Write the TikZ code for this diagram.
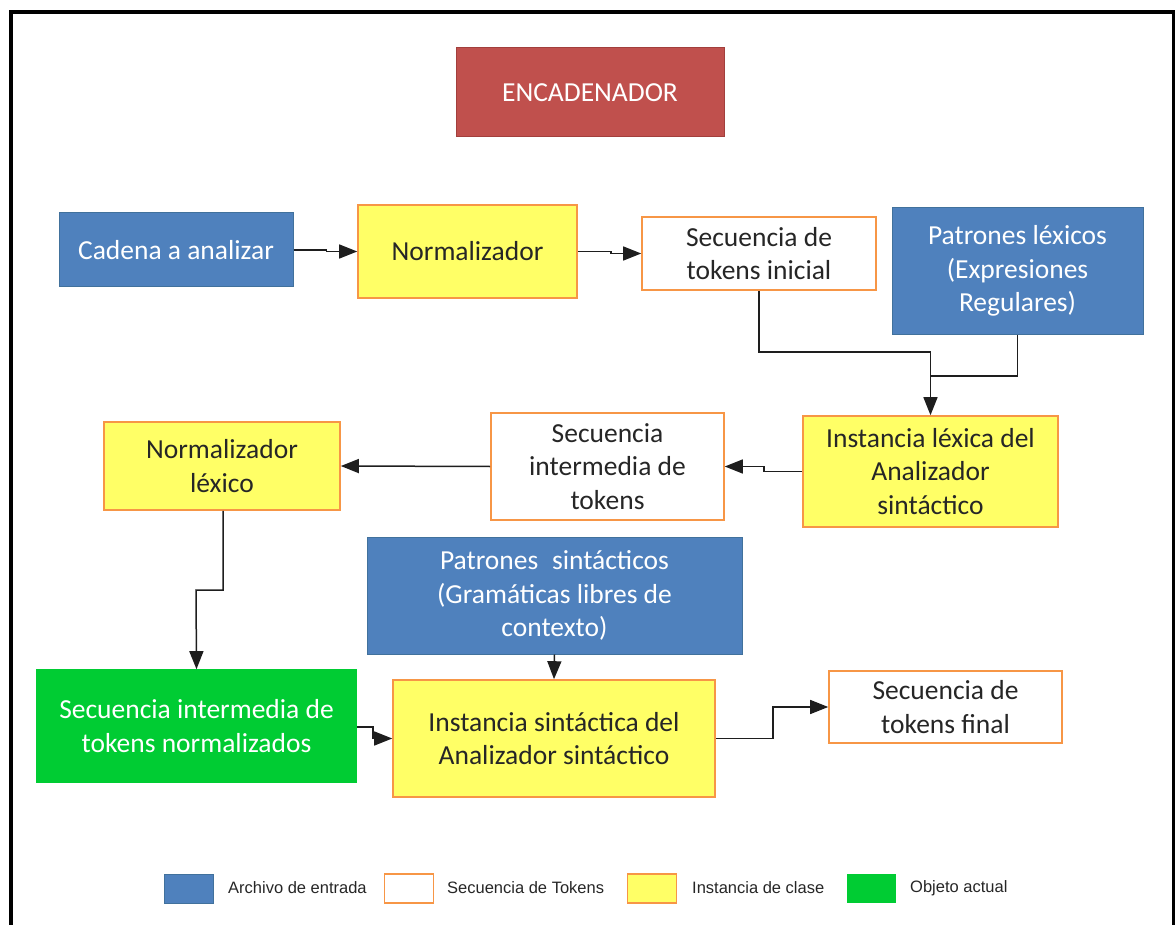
\documentclass[tikz,border=0pt]{standalone}
\usepackage{fontspec}
\setmainfont{Carlito}
\newfontfamily\legendfont{Liberation Sans}
\usetikzlibrary{arrows.meta}

\definecolor{inputblue}{HTML}{4F81BD}
\definecolor{inputedge}{HTML}{41719C}
\definecolor{chainred}{HTML}{C0504D}
\definecolor{chainedge}{HTML}{A23F3C}
\definecolor{classyellow}{HTML}{FFFF66}
\definecolor{seqorange}{HTML}{F79646}
\definecolor{objgreen}{HTML}{00CC33}
\definecolor{inktext}{HTML}{262626}
\definecolor{wire}{HTML}{1E1E1E}

\tikzset{
  box/.style={rectangle, inner sep=0pt, align=center, line width=1.6pt,
    font=\fontsize{27.5}{33.5}\selectfont},
  inputbox/.style={box, fill=inputblue, draw=inputedge, line width=1pt, text=white},
  seqbox/.style={box, fill=white, draw=seqorange, text=inktext},
  classbox/.style={box, fill=classyellow, draw=seqorange, text=inktext},
  objbox/.style={box, fill=objgreen, draw=objgreen, text=white},
  chainbox/.style={box, fill=chainred, draw=chainedge, line width=1pt, text=white},
  flow/.style={draw=wire, line width=1.5pt, -{Triangle[length=18pt,width=14pt]}},
  wireline/.style={draw=wire, line width=1.5pt},
  keybox/.style={rectangle, inner sep=0pt, minimum width=49pt, minimum height=29pt},
  keytext/.style={anchor=west, inner sep=0pt, text=inktext,
    font=\legendfont\fontsize{16.5}{18}\selectfont}
}

\begin{document}
\begin{tikzpicture}[x=1pt, y=-1pt]
\useasboundingbox (0,0) rectangle (1175,925);
\clip (0,0) rectangle (1175,925);

% outer frame (runs past the lower edge)
\draw[line width=4pt, black] (11,12) rectangle (1174,960);

% title
\node[chainbox, minimum width=268pt, minimum height=89pt] (enc) at (590,92.5) {ENCADENADOR};

% first row
\node[inputbox, minimum width=234pt, minimum height=74pt] (cadena) at (176,250) {Cadena a analizar};
\node[classbox, minimum width=219pt, minimum height=93pt] (norm) at (467.5,251.5) {Normalizador};
\node[seqbox, minimum width=234pt, minimum height=73pt] (seqini) at (759,253.5) {Secuencia de\\tokens inicial};
\node[inputbox, minimum width=251pt, minimum height=126pt] (patlex) at (1017.5,271) {Patrones léxicos\\(Expresiones\\Regulares)};

% second row
\node[classbox, minimum width=255pt, minimum height=111pt] (instlex) at (930.5,471.5) {Instancia léxica del\\Analizador\\sintáctico};
\node[seqbox, minimum width=233pt, minimum height=107pt] (seqmid) at (607.5,466.5) {Secuencia\\intermedia de\\tokens};
\node[classbox, minimum width=236pt, minimum height=88pt] (normlex) at (222,466) {Normalizador\\léxico};

% third row
\node[inputbox, minimum width=375pt, minimum height=117pt] (patsin) at (554.5,595.5) {Patrones\enspace sintácticos\\(Gramáticas libres de\\contexto)};
\node[objbox, minimum width=319pt, minimum height=112pt] (seqnorm) at (196.5,726) {Secuencia intermedia de\\tokens normalizados};
\node[classbox, minimum width=322pt, minimum height=117pt] (instsin) at (554,738.5) {Instancia sintáctica del\\Analizador sintáctico};
\node[seqbox, minimum width=233pt, minimum height=72pt] (seqfin) at (945.5,707) {Secuencia de\\tokens final};

% connectors
\coordinate (lexturn) at (930.5,352);
\coordinate (lexjoin) at (930.5,376);
\draw[flow] (cadena.east) -- ++(33,0) |- (norm.west);
\draw[flow] (norm.east) -- ++(33,0) |- (seqini.west);
\draw[wireline] (seqini.south) |- (lexturn);
\draw[flow] (lexturn) -- (instlex.north);
\draw[wireline] (patlex.south) |- (lexjoin);
\draw[flow] (instlex.west) -- ++(-38,0) |- (seqmid.east);
\draw[flow] (seqmid.west) -- (normlex.east);
\draw[flow] (normlex.south) ++(1,0) |- (196,590) -- (seqnorm.north);
\draw[flow] (patsin.south) -- (instsin.north);
\draw[flow] (seqnorm.east) ++(0,1) -- ++(16,0) |- (instsin.west);
\draw[flow] (instsin.east) -- ++(57,0) |- (seqfin.west);

% key
\node[keybox, fill=inputblue, draw=inputedge, line width=1pt] (k1) at (188.5,888.5) {};
\node[keytext] (t1) at (228,888) {Archivo de entrada};
\node[keybox, fill=white, draw=seqorange, line width=1.6pt] (k2) at (409,888.5) {};
\node[keytext] (t2) at (447,888) {Secuencia de Tokens};
\node[keybox, fill=classyellow, draw=seqorange, line width=1.6pt] (k3) at (652,888.5) {};
\node[keytext] (t3) at (692,888) {Instancia de clase};
\node[keybox, fill=objgreen] (k4) at (871,888.5) {};
\node[keytext] (t4) at (910,888) {Objeto actual};
\end{tikzpicture}
\end{document}
